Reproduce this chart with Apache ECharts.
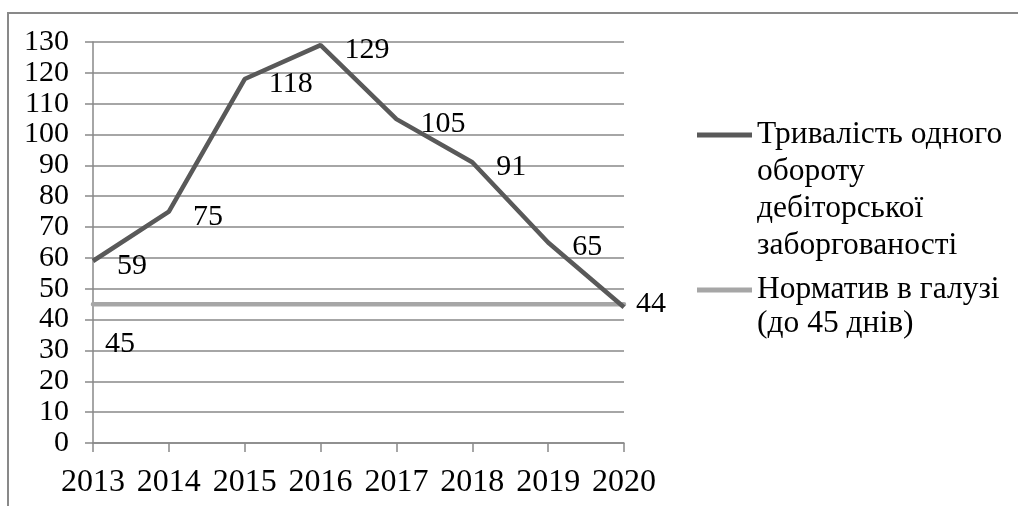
<!DOCTYPE html>
<html>
<head>
<meta charset="utf-8">
<script src="https://cdn.jsdelivr.net/npm/echarts@6/dist/echarts.min.js"></script>
<style>
  html, body { margin: 0; padding: 0; background: #fff; }
  #chart { width: 1018px; height: 506px; }
</style>
</head>
<body>
<div id="chart"></div>
<script>
var years = ['2013', '2014', '2015', '2016', '2017', '2018', '2019', '2020']
var turnover = [59, 75, 118, 129, 105, 91, 65, 44]
var norm = [45, 45, 45, 45, 45, 45, 45, 45]
var yTicks = { min: 0, max: 130, step: 10 }
var name1 = 'Тривалість одного\nобороту\nдебіторської\nзаборгованості'
var name2 = 'Норматив в галузі\n(до 45 днів)'

var font = '"Liberation Serif", "Times New Roman", serif'
var axisGray = '#898989'

// legend text is centred on the icon, so pad with empty lines above
// to make the first line sit level with the icon
function topAligned(name) {
    var n = name.split('\n').length
    return new Array(n).join('\n') + name
}

var chart = echarts.init(document.getElementById('chart'))
chart.setOption({
    animation: false,
    textStyle: { fontFamily: font },
    graphic: [{
        type: 'rect',
        shape: { x: 8, y: 13, width: 2000, height: 1000 },
        style: { fill: 'none', stroke: axisGray, lineWidth: 2 },
        silent: true
    }],
    grid: { left: 93, top: 42, right: 394, bottom: 63 },
    legend: [
        {
            data: [name1],
            left: 697, top: 135 - 7 * 37 / 2, padding: 0,
            icon: 'rect', itemWidth: 55, itemHeight: 5,
            formatter: topAligned,
            textStyle: { fontFamily: font, fontSize: 31.5, color: '#000', lineHeight: 37 }
        },
        {
            data: [name2],
            left: 697, top: 290 - 3 * 34 / 2, padding: 0,
            icon: 'rect', itemWidth: 55, itemHeight: 5,
            formatter: topAligned,
            textStyle: { fontFamily: font, fontSize: 31.5, color: '#000', lineHeight: 34 }
        }
    ],
    xAxis: {
        type: 'category',
        data: years,
        boundaryGap: false,
        axisLine: { lineStyle: { color: axisGray, width: 1.5 } },
        axisTick: { show: true, interval: 0, length: 9, lineStyle: { color: axisGray, width: 1.5 } },
        axisLabel: { interval: 0, fontFamily: font, fontSize: 32, color: '#000', margin: 24 }
    },
    yAxis: {
        type: 'value',
        min: yTicks.min, max: yTicks.max, interval: yTicks.step,
        axisLine: { show: true, lineStyle: { color: axisGray, width: 1.5 } },
        axisTick: { show: true, length: 8, lineStyle: { color: axisGray, width: 1.5 } },
        splitLine: { lineStyle: { color: axisGray, width: 1.5 } },
        axisLabel: { fontFamily: font, fontSize: 30, color: '#000', margin: 24 }
    },
    series: [
        {
            name: name1,
            type: 'line',
            data: turnover,
            symbol: 'circle',
            symbolSize: 0.1,
            showSymbol: true,
            z: 3,
            color: '#595959',
            itemStyle: { color: '#595959' },
            lineStyle: { color: '#595959', width: 4.5 },
            label: {
                show: true, position: 'right', distance: 24,
                fontFamily: font, fontSize: 30, color: '#000'
            },
            // labels sit a little below their points; the last one closer in
            labelLayout: function (p) {
                if (p.dataIndex === turnover.length - 1) return { dx: -12, dy: -3 }
                return { dy: 5 }
            }
        },
        {
            name: name2,
            type: 'line',
            data: norm,
            symbol: 'circle',
            symbolSize: 0.1,
            showSymbol: true,
            z: 2,
            color: '#A6A6A6',
            itemStyle: { color: '#A6A6A6' },
            lineStyle: { color: '#A6A6A6', width: 4.5, cap: 'round' },
            label: {
                show: true, position: 'right', distance: 12, offset: [0, 40],
                fontFamily: font, fontSize: 30, color: '#000',
                formatter: function (p) { return p.dataIndex === 0 ? String(p.value) : '' }
            }
        }
    ]
})
</script>
</body>
</html>
